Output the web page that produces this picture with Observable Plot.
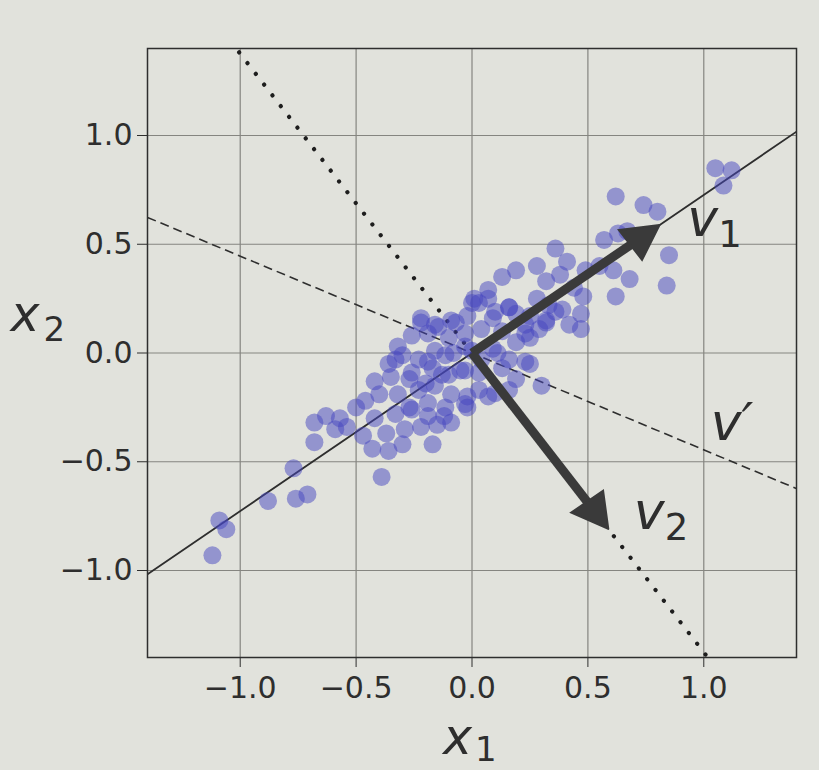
<!DOCTYPE html>
<html><head><meta charset="utf-8">
<script src="https://cdn.jsdelivr.net/npm/d3@7"></script>
<script src="https://cdn.jsdelivr.net/npm/@observablehq/plot@0.6"></script>
<style>
html,body{margin:0;padding:0;background:#e1e2dc;}
#chart svg{display:block;}
</style></head><body><div id="chart"></div>
<script>
// scatter values
const x1Values = [
  -1.12,-1.09,-1.06,-0.88,-0.76,-0.71,-0.77,-0.68,-0.68,-0.63,-0.57,-0.59,-0.54,-0.39,
  -0.46,-0.47,-0.43,-0.50,
  -0.22,-0.16,-0.09,-0.02,0.03,0.10,0.19,0.25,0.32,0.36,
  -0.32,-0.26,-0.19,-0.10,-0.03,0.04,0.13,0.23,0.29,
  -0.36,-0.30,-0.23,-0.16,-0.08,0.00,0.09,0.16,0.23,
  -0.42,-0.35,-0.26,-0.17,-0.10,-0.03,0.03,0.13,0.19,
  -0.40,-0.32,-0.23,-0.16,-0.09,-0.02,0.07,0.16,
  -0.42,-0.33,-0.26,-0.19,-0.12,-0.09,-0.02,
  -0.37,-0.29,-0.22,-0.15,
  -0.36,-0.17,-0.30,
  0.62,0.74,0.80,0.57,0.63,0.67,0.85,0.84,0.68,0.62,0.61,0.36,0.41,0.28,0.19,0.13,0.07,0.01,
  0.32,0.38,0.44,0.48,0.47,0.47,0.49,0.16,0.28,0.33,0.39,0.23,0.32,0.42,0.09,0.55,
  1.05,1.12,1.085,
  0.25,0.19,0.25,0.30,
  -0.22,-0.145,-0.07,0.00,0.07,0.16,-0.19,-0.115,-0.03,0.04,0.11,-0.33,
  -0.27,-0.20,-0.13,-0.05,0.03,0.10,-0.27,-0.19,-0.115,-0.03
];
const x2Values = [
  -0.93,-0.77,-0.81,-0.68,-0.67,-0.65,-0.53,-0.41,-0.32,-0.29,-0.30,-0.35,-0.34,-0.57,
  -0.22,-0.38,-0.44,-0.25,
  0.16,0.13,0.15,0.17,0.23,0.19,0.18,0.17,0.15,0.19,
  0.03,0.08,0.09,0.07,0.09,0.11,0.10,0.09,0.11,
  -0.05,-0.01,-0.03,0.01,0.00,0.01,0.02,-0.03,-0.04,
  -0.13,-0.11,-0.09,-0.07,-0.10,-0.08,-0.09,-0.07,-0.12,
  -0.19,-0.19,-0.17,-0.15,-0.19,-0.20,-0.20,-0.17,
  -0.30,-0.28,-0.26,-0.29,-0.29,-0.32,-0.25,
  -0.37,-0.35,-0.34,-0.33,
  -0.45,-0.42,-0.42,
  0.72,0.68,0.65,0.52,0.55,0.56,0.45,0.31,0.34,0.26,0.38,0.48,0.42,0.40,0.38,0.35,0.29,0.25,
  0.33,0.36,0.30,0.26,0.18,0.11,0.38,0.21,0.25,0.22,0.20,0.13,0.14,0.13,0.16,0.40,
  0.85,0.84,0.77,
  0.07,0.05,-0.05,-0.15,
  0.14,0.12,0.14,0.23,0.25,0.21,-0.04,-0.01,0.03,-0.03,0.00,-0.03,
  -0.12,-0.14,-0.10,-0.08,-0.17,-0.185,-0.25,-0.23,-0.25,-0.235
];
const xTicks = [-1.0, -0.5, 0.0, 0.5, 1.0];
const yTicks = [-1.0, -0.5, 0.0, 0.5, 1.0];
const axisLimits = [-1.4, 1.4];
// unit direction vectors
const v1 = [0.809, 0.588];
const v2 = [0.588, -0.809];
const vPrime = [0.914, -0.407];

const ink = "#2e2e2e";
const arrowInk = "#3a3a3a";
const paper = "#e1e2dc";

const points = x1Values.map((x, i) => ({x1: x, x2: x2Values[i]}));
const through = (v) => axisLimits.map(x => ({x, y: x * v[1] / v[0]}));

const headLen = 0.155, headHalf = 0.085;
function arrowParts(v, k) {
  const L = Math.hypot(v[0], v[1]), dx = v[0] / L, dy = v[1] / L;
  const bx = v[0] - headLen * dx, by = v[1] - headLen * dy;
  return {
    shaft: {x1: 0, y1: 0, x2: bx, y2: by, k},
    head: [
      {x: v[0], y: v[1], k},
      {x: bx - headHalf * dy, y: by + headHalf * dx, k},
      {x: bx + headHalf * dy, y: by - headHalf * dx, k},
      {x: v[0], y: v[1], k}
    ]
  };
}
const a1 = arrowParts(v1, "v1"), a2 = arrowParts(v2, "v2");
const shafts = [a1.shaft, a2.shaft];
const heads = [...a1.head, ...a2.head];

const vLabels = [
  {x: v1[0] + 0.12, y: v1[1] - 0.05, main: "v", sub: "1"},
  {x: v2[0] + 0.11, y: v2[1], main: "v", sub: "2"},
  {x: 1.03, y: 1.03 * vPrime[1] / vPrime[0] + 0.06, main: "v\u2032", sub: ""}
];

const chart = Plot.plot({
  width: 819, height: 770,
  marginLeft: 147, marginRight: 23, marginTop: 48, marginBottom: 113,
  x: {domain: axisLimits, label: null},
  y: {domain: axisLimits, label: null},
  style: {background: paper, fontFamily: "DejaVu Sans", fontSize: "30px", color: ink},
  marks: [
    Plot.gridX({ticks: xTicks, stroke: "#858580", strokeOpacity: 1, strokeWidth: 1.2}),
    Plot.gridY({ticks: yTicks, stroke: "#858580", strokeOpacity: 1, strokeWidth: 1.2}),
    Plot.line(through(v1), {x: "x", y: "y", stroke: ink, strokeWidth: 1.8, clip: true}),
    Plot.line(through(vPrime), {x: "x", y: "y", stroke: ink, strokeWidth: 1.6, strokeDasharray: "9,5", strokeLinecap: "butt", clip: true}),
    Plot.line(through(v2), {x: "x", y: "y", stroke: "#1e1e1e", strokeWidth: 4.2, strokeDasharray: "0.1,13.5", strokeLinecap: "round", clip: true}),
    Plot.dot(points, {x: "x1", y: "x2", r: 9, fill: "#4545c0", fillOpacity: 0.5, stroke: "none"}),
    Plot.link(shafts, {x1: "x1", y1: "y1", x2: "x2", y2: "y2", stroke: arrowInk, strokeWidth: 9, strokeLinecap: "butt"}),
    Plot.line(heads, {x: "x", y: "y", z: "k", fill: arrowInk, stroke: arrowInk, strokeWidth: 2, strokeLinejoin: "miter", strokeMiterlimit: 10}),
    Plot.frame({stroke: ink, strokeWidth: 1.5}),
    Plot.axisX({ticks: xTicks, tickSize: 10, tickPadding: 9, tickFormat: d3.format(".1f"), fontSize: 30, label: null, stroke: ink}),
    Plot.axisY({ticks: yTicks, tickSize: 10, tickPadding: 5, tickFormat: d3.format(".1f"), fontSize: 30, label: null, stroke: ink}),
    Plot.text(vLabels, {x: "x", y: "y", text: "main", textAnchor: "start", lineAnchor: "bottom", fontSize: 52, fontStyle: "italic", fill: ink}),
    Plot.text(vLabels, {x: "x", y: "y", text: "sub", textAnchor: "start", lineAnchor: "bottom", dx: 31, dy: 11, fontSize: 37, fill: ink}),
    Plot.text([{x: 0}], {x: "x", frameAnchor: "bottom", text: () => "x", textAnchor: "end", lineAnchor: "bottom", dy: 96, fontSize: 49, fontStyle: "italic", fill: ink}),
    Plot.text([{x: 0}], {x: "x", frameAnchor: "bottom", text: () => "1", textAnchor: "start", lineAnchor: "bottom", dx: 3, dy: 103, fontSize: 34, fill: ink}),
    Plot.text([{y: 0}], {y: "y", frameAnchor: "left", text: () => "x", textAnchor: "start", lineAnchor: "bottom", dx: -137, dy: -22, fontSize: 49, fontStyle: "italic", fill: ink}),
    Plot.text([{y: 0}], {y: "y", frameAnchor: "left", text: () => "2", textAnchor: "start", lineAnchor: "bottom", dx: -104, dy: -12, fontSize: 34, fill: ink})
  ]
});
document.getElementById("chart").appendChild(chart);
</script></body></html>
